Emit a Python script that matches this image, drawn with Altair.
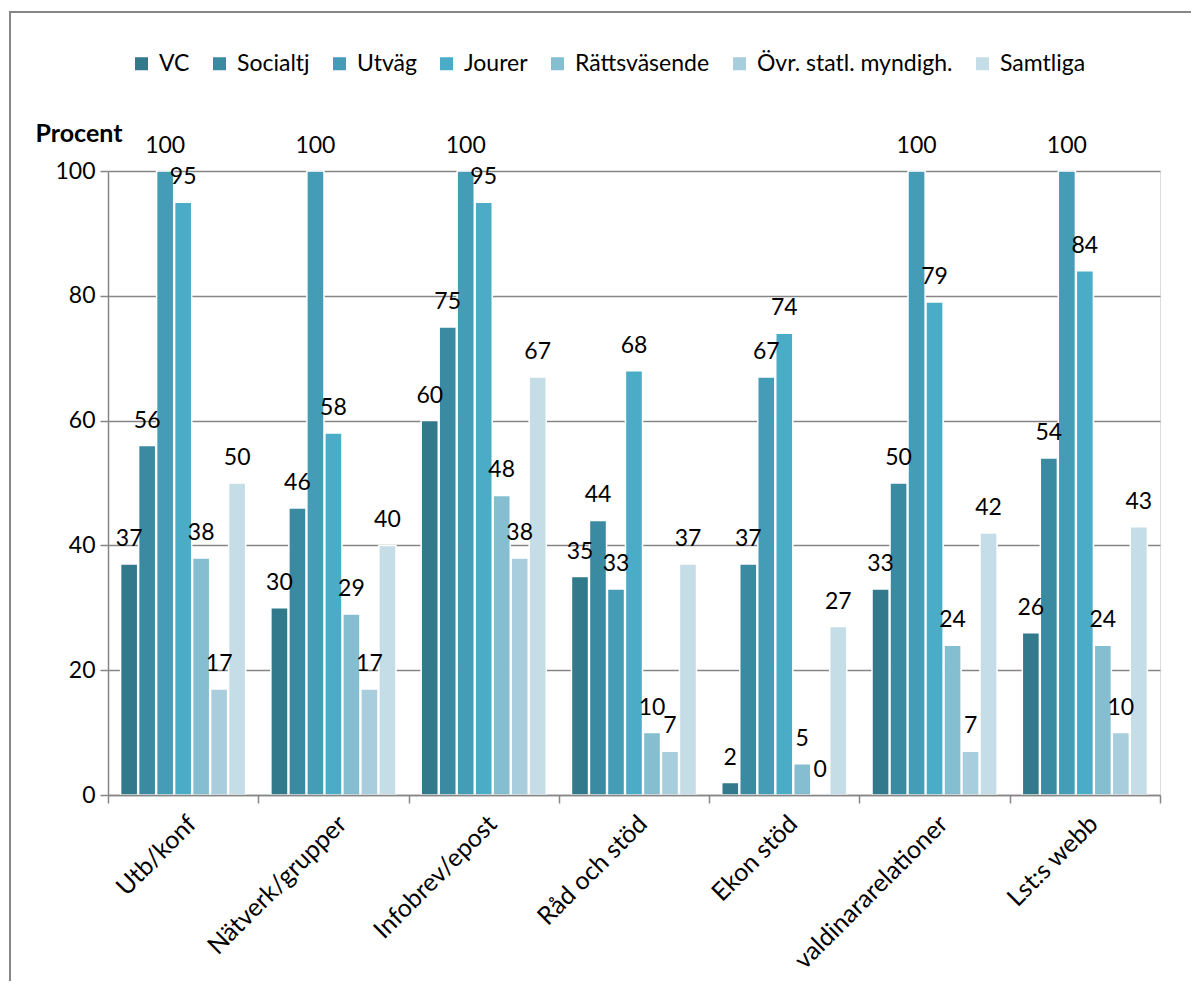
import altair as alt
import pandas as pd

categories = ["Utb/konf", "Nätverk/grupper", "Infobrev/epost", "Råd och stöd",
              "Ekon stöd", "valdinararelationer", "Lst:s webb"]
series = ["VC", "Socialtj", "Utväg", "Jourer", "Rättsväsende",
          "Övr. statl. myndigh.", "Samtliga"]

vc = [37, 30, 60, 35, 2, 33, 26]
socialtj = [56, 46, 75, 44, 37, 50, 54]
utvag = [100, 100, 100, 33, 67, 100, 100]
jourer = [95, 58, 95, 68, 74, 79, 84]
rattsvasende = [38, 29, 48, 10, 5, 24, 24]
ovr_statl = [17, 17, 38, 7, 0, 7, 10]
samtliga = [50, 40, 67, 37, 27, 42, 43]

colors = ["#31798b", "#3a8aa2", "#449cb6", "#4aacc7", "#85bed1", "#a8cedd", "#c5dde6"]

all_series = [vc, socialtj, utvag, jourer, rattsvasende, ovr_statl, samtliga]
rows = []
for s, vals in zip(series, all_series):
    for c, v in zip(categories, vals):
        rows.append({"cat": c, "series": s, "value": v, "label": str(v)})
df = pd.DataFrame(rows)

FONT = "Lato"
FS = 23

x_enc = alt.X("cat:N", sort=categories,
              scale=alt.Scale(paddingInner=0, paddingOuter=0),
              axis=alt.Axis(title=None, labelAngle=-45, labelAlign="right",
                            labelBaseline="top", labelPadding=8, labelFontSize=25,
                            labelFont=FONT, labelColor="black", labelLimit=400,
                            tickBand="extent", tickSize=8, tickColor="#868686",
                            tickWidth=1.5, domainColor="#868686", domainWidth=1.5,
                            grid=False, zindex=1))
xo_enc = alt.XOffset("series:N", sort=series,
                     scale=alt.Scale(paddingInner=0.05, paddingOuter=0.7))
y_enc = alt.Y("value:Q", scale=alt.Scale(domain=[0, 100], nice=False),
              axis=alt.Axis(values=[0, 20, 40, 60, 80, 100], title="Procent",
                            titleAngle=0, titleX=-73, titleY=-38,
                            titleAlign="left", titleBaseline="middle",
                            titleFont=FONT, titleFontSize=25, titleFontWeight="bold",
                            titleColor="black",
                            labelFont=FONT, labelFontSize=FS, labelColor="black",
                            labelPadding=5, tickSize=8, tickColor="#868686",
                            tickWidth=1.5, domainColor="#868686", domainWidth=1.5,
                            gridColor="#868686", gridWidth=1.5))

base = alt.Chart(df)

bars = base.mark_bar(stroke="white", strokeWidth=1.5).encode(
    x=x_enc, xOffset=xo_enc, y=y_enc,
    color=alt.Color("series:N", sort=series,
                    scale=alt.Scale(domain=series, range=colors),
                    legend=alt.Legend(title=None, orient="none", legendX=22, legendY=-119,
                                      direction="horizontal", columns=7,
                                      symbolType="square", symbolSize=169,
                                      symbolStrokeWidth=0, labelFont=FONT,
                                      labelFontSize=23, labelColor="black",
                                      labelLimit=400,
                                      labelOffset=6, columnPadding=18)),
)

labels = base.mark_text(dy=-18, baseline="alphabetic", font=FONT, fontSize=FS,
                        color="black").encode(
    x=alt.X("cat:N", sort=categories), xOffset=alt.XOffset("series:N", sort=series),
    y=alt.Y("value:Q"), text="label:N")

border = alt.Chart(pd.DataFrame({"a": [0]})).mark_rect(
    fill=None, stroke="#868686", strokeWidth=2).encode(
    x=alt.value(-98), x2=alt.value(1200), y=alt.value(-159), y2=alt.value(1000))

chart = alt.layer(border, bars, labels).properties(
    width=1052, height=624,
    autosize=alt.AutoSizeParams(type="none"),
    padding={"left": 100, "top": 163, "right": 31, "bottom": 186},
).configure_view(stroke=None).configure(background="white")

chart.save("out.html", embed_options={"renderer": "svg", "actions": False})
